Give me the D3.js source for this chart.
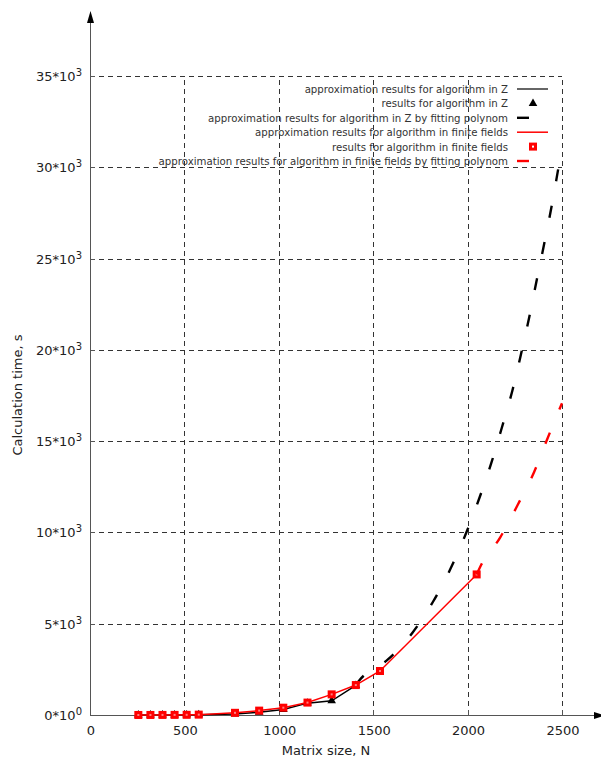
<!DOCTYPE html>
<html><head><meta charset="utf-8">
<script src="https://cdn.jsdelivr.net/npm/d3@7"></script>
<style>body{margin:0;background:#fff}svg{display:block}</style>
</head><body>
<svg id="c" width="601" height="759"></svg>
<script>
// ---- data ----
const sizesZ = [256, 320, 384, 448, 512, 576, 768, 896, 1024, 1152, 1280, 1408];
const timesZ = [1, 2, 3, 5, 8, 15, 60, 150, 300, 650, 780, 1620];
const sizesF = [256, 320, 384, 448, 512, 576, 768, 896, 1024, 1152, 1280, 1408, 1536, 2048];
const timesF = [1, 2, 4, 6, 10, 20, 120, 240, 400, 680, 1130, 1640, 2410, 7700];
const polyZN = [1408, 1426, 1581, 1708, 1816, 1908, 1988, 2060, 2124, 2182, 2237, 2283, 2327, 2367, 2408, 2447, 2482, 2500];
const polyZT = [1650, 1890, 3068, 4508, 6190, 7979, 9858, 11816, 13749, 15759, 17763, 19773, 21816, 23865, 25924, 27972, 30032, 31100];
const polyFN = [2048, 2067, 2173, 2265, 2353, 2420, 2496, 2500];
const polyFT = [7700, 8123, 9733, 11502, 13326, 15063, 16980, 17080];
const xTicks = [0, 500, 1000, 1500, 2000, 2500];
const yTicks = [0, 5000, 10000, 15000, 20000, 25000, 30000, 35000];
const yTickMant = ["0", "5", "10", "15", "20", "25", "30", "35"];
const yTickExp = ["0", "3", "3", "3", "3", "3", "3", "3"];
const legendLabels = [
  "approximation results for algorithm in Z",
  "results for algorithm in Z",
  "approximation results for algorithm in Z by fitting polynom",
  "approximation results for algorithm in finite fields",
  "results for algorithm in finite fields",
  "approximation results for algorithm in finite fields by fitting polynom"
];

const svg = d3.select("#c");
const x = d3.scaleLinear().domain([0, 2500]).range([90, 562]);
const y = d3.scaleLinear().domain([0, 35000]).range([715, 76]);
const FONT = "DejaVu Sans";

// grid
const g = svg.append("g");
g.selectAll(".hg").data(yTicks.slice(1)).join("line")
  .attr("x1", x(0)).attr("x2", x(2500))
  .attr("y1", d => Math.round(y(d)) + 0.5).attr("y2", d => Math.round(y(d)) + 0.5)
  .attr("stroke", "#333").attr("stroke-dasharray", "5,4");
g.selectAll(".vg").data(xTicks.slice(1)).join("line")
  .attr("x1", d => Math.round(x(d)) + 0.5).attr("x2", d => Math.round(x(d)) + 0.5)
  .attr("y1", y(0)).attr("y2", y(35000))
  .attr("stroke", "#333").attr("stroke-dasharray", "5,4");

// axes
svg.append("line").attr("x1", 90.5).attr("x2", 90.5).attr("y1", 715).attr("y2", 22)
  .attr("stroke", "#555");
svg.append("path").attr("d", "M90.5,11 L87,23 L94,23 Z").attr("fill", "#000");
svg.append("line").attr("x1", 90).attr("x2", 596).attr("y1", 715.5).attr("y2", 715.5)
  .attr("stroke", "#555");
svg.append("path").attr("d", "M605,715.5 L594,712 L594,719 Z").attr("fill", "#000");

// ticks
svg.selectAll(".yt").data(yTicks).join("line")
  .attr("x1", 90).attr("x2", 95)
  .attr("y1", d => Math.round(y(d)) + 0.5).attr("y2", d => Math.round(y(d)) + 0.5)
  .attr("stroke", "#555");
svg.selectAll(".xt").data(xTicks).join("line")
  .attr("x1", d => Math.round(x(d)) + 0.5).attr("x2", d => Math.round(x(d)) + 0.5)
  .attr("y1", 715).attr("y2", 710).attr("stroke", "#555");

// tick labels
svg.selectAll(".xl").data(xTicks).join("text")
  .attr("x", d => x(d) + 1).attr("y", 735)
  .attr("text-anchor", "middle").attr("font-family", FONT).attr("font-size", 13)
  .attr("fill", "#222").text(d => d);
const yl = svg.selectAll(".yl").data(yTicks).join("text")
  .attr("x", 82).attr("y", d => y(d) + 5)
  .attr("text-anchor", "end").attr("font-family", FONT).attr("font-size", 13)
  .attr("fill", "#222");
yl.append("tspan").text((d, i) => yTickMant[i] + "*10");
yl.append("tspan").attr("dy", -5).attr("font-size", 10).text((d, i) => yTickExp[i]);

// axis titles
svg.append("text").attr("x", 326).attr("y", 755).attr("text-anchor", "middle")
  .attr("font-family", FONT).attr("font-size", 13).attr("fill", "#222").text("Matrix size, N");
svg.append("text").attr("transform", "translate(22,395) rotate(-90)").attr("text-anchor", "middle")
  .attr("font-family", FONT).attr("font-size", 13).attr("fill", "#222").text("Calculation time, s");

// series
const line = d3.line().x(d => x(d[0])).y(d => y(d[1]));
const curve = d3.line().x(d => x(d[0])).y(d => y(d[1])).curve(d3.curveMonotoneX);
const zPts = sizesZ.map((n, i) => [n, timesZ[i]]);
const fPts = sizesF.map((n, i) => [n, timesF[i]]);
const pzPts = polyZN.map((n, i) => [n, polyZT[i]]);
const pfPts = polyFN.map((n, i) => [n, polyFT[i]]);

svg.append("path").attr("d", line(zPts)).attr("fill", "none").attr("stroke", "#000").attr("stroke-width", 1.5);
svg.selectAll(".tri").data(zPts).join("path")
  .attr("transform", d => `translate(${x(d[0])},${y(d[1])})`)
  .attr("d", d3.symbol(d3.symbolTriangle, 32)).attr("fill", "#000");
svg.append("path").attr("d", curve(pzPts)).attr("fill", "none").attr("stroke", "#000")
  .attr("stroke-width", 2.4).attr("stroke-dasharray", "12,25");

svg.append("path").attr("d", line(fPts)).attr("fill", "none").attr("stroke", "#f00").attr("stroke-width", 1.5);
const sq = svg.selectAll(".sq").data(fPts).join("g")
  .attr("transform", d => `translate(${x(d[0])},${y(d[1])})`);
sq.append("rect").attr("x", -4).attr("y", -4).attr("width", 8).attr("height", 8).attr("fill", "#f00");
sq.append("rect").attr("x", -1).attr("y", -1).attr("width", 2).attr("height", 2).attr("fill", "#ff8080");
svg.append("path").attr("d", curve(pfPts)).attr("fill", "none").attr("stroke", "#f00")
  .attr("stroke-width", 2.4).attr("stroke-dasharray", "12,25");

// legend
const ly0 = 89, ldy = 14.4;
const lg = svg.append("g");
lg.selectAll("text").data(legendLabels).join("text")
  .attr("x", 508).attr("y", (d, i) => ly0 + i * ldy + 4)
  .attr("text-anchor", "end").attr("font-family", FONT).attr("font-size", 10.2)
  .attr("fill", "#333").text(d => d);
lg.append("line").attr("x1", 517).attr("x2", 548).attr("y1", ly0).attr("y2", ly0).attr("stroke", "#333").attr("stroke-width", 1.5);
lg.append("path").attr("transform", `translate(533,${ly0 + ldy})`).attr("d", d3.symbol(d3.symbolTriangle, 32)).attr("fill", "#000");
lg.append("line").attr("x1", 517).attr("x2", 529).attr("y1", ly0 + 2 * ldy).attr("y2", ly0 + 2 * ldy).attr("stroke", "#000").attr("stroke-width", 2.4);
lg.append("line").attr("x1", 517).attr("x2", 548).attr("y1", ly0 + 3 * ldy).attr("y2", ly0 + 3 * ldy).attr("stroke", "#f00").attr("stroke-width", 1.5);
lg.append("rect").attr("x", 529).attr("y", ly0 + 4 * ldy - 4).attr("width", 8).attr("height", 8).attr("fill", "#f00");
lg.append("rect").attr("x", 532).attr("y", ly0 + 4 * ldy - 1).attr("width", 2).attr("height", 2).attr("fill", "#fff");
lg.append("line").attr("x1", 517).attr("x2", 529).attr("y1", ly0 + 5 * ldy).attr("y2", ly0 + 5 * ldy).attr("stroke", "#f00").attr("stroke-width", 2.4);
</script>
</body></html>
